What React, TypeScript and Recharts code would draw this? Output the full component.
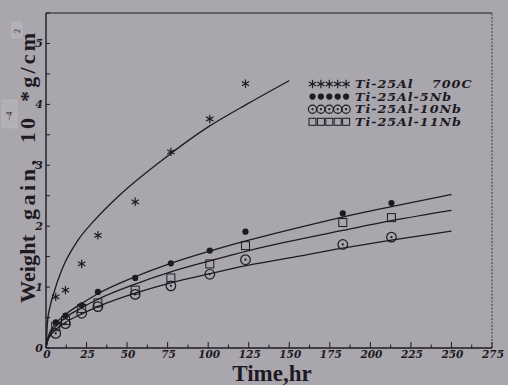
import React from 'react'
import {
  ComposedChart, Line, Scatter, XAxis, YAxis, ReferenceLine,
} from 'recharts'

// measured times (hr)
const sampleTimes = [6, 12, 22, 32, 55, 77, 101, 123, 183, 213]
// weight gain, 10^-4 g/cm^2
const ti25Al = [0.84, 0.95, 1.38, 1.85, 2.4, 3.22, 3.76, 4.34]
const ti25Al5Nb = [0.42, 0.53, 0.7, 0.92, 1.15, 1.39, 1.6, 1.91, 2.21, 2.38]
const ti25Al10Nb = [0.24, 0.4, 0.57, 0.68, 0.88, 1.02, 1.21, 1.45, 1.7, 1.82]
const ti25Al11Nb = [0.35, 0.45, 0.65, 0.74, 0.95, 1.15, 1.38, 1.68, 2.06, 2.14]

// fitted curves
const alFitTimes = [0, 1, 2.5, 5, 10, 20, 30, 45, 70, 100, 125, 150]
const alFit = [0, 0.45, 0.68, 0.92, 1.3, 1.78, 2.1, 2.5, 3.05, 3.63, 4.02, 4.39]
const nbFitTimes = [0, 1.5, 6, 12, 22, 32, 55, 77, 101, 125, 150, 183, 213, 250]
const nb5Fit = [0, 0.2, 0.4, 0.55, 0.73, 0.89, 1.17, 1.39, 1.59, 1.77, 1.94, 2.15, 2.32, 2.52]
const nb11Fit = [0, 0.17, 0.35, 0.5, 0.66, 0.8, 1.05, 1.25, 1.43, 1.6, 1.75, 1.93, 2.09, 2.26]
const nb10Fit = [0, 0.15, 0.3, 0.42, 0.56, 0.68, 0.9, 1.07, 1.22, 1.36, 1.48, 1.64, 1.77, 1.92]

const xMajor = [0, 25, 50, 75, 100, 125, 150, 175, 200, 225, 250, 275]
const yMajor = [0, 1, 2, 3, 4, 5]

const legendNames = ['Ti-25Al', 'Ti-25Al-5Nb', 'Ti-25Al-10Nb', 'Ti-25Al-11Nb']

const INK = '#1d1a22'
const BG = '#aaa6ae'
const TICK_FONT = '"DejaVu Serif", serif'

const pts = (ts: number[], vs: number[]) => vs.map((v, i) => ({ t: ts[i], v }))

const xTicks = xMajor.flatMap((t, i) => (i < xMajor.length - 1 ? [t, t + 12.5] : [t]))
const yTicks = yMajor.flatMap(v => [v, v + 0.5])

function Star({ cx, cy }: any) {
  const r = 4.2
  const a = r * 0.87, b = r * 0.5
  return (
    <g stroke={INK} strokeWidth={1.2}>
      <line x1={cx} y1={cy - r} x2={cx} y2={cy + r} />
      <line x1={cx - a} y1={cy - b} x2={cx + a} y2={cy + b} />
      <line x1={cx - a} y1={cy + b} x2={cx + a} y2={cy - b} />
    </g>
  )
}
function Dot({ cx, cy }: any) {
  return <circle cx={cx} cy={cy} r={3.1} fill={INK} />
}
function Ring({ cx, cy, r = 4.8 }: any) {
  return (
    <g>
      <circle cx={cx} cy={cy} r={r} fill="none" stroke={INK} strokeWidth={1.2} />
      <circle cx={cx} cy={cy} r={1.1} fill={INK} />
    </g>
  )
}
function Box({ cx, cy, s = 8 }: any) {
  return <rect x={cx - s / 2} y={cy - s / 2} width={s} height={s} fill="none" stroke={INK} strokeWidth={1} />
}

const markers = [Star, Dot, Ring, Box]

function XTick({ x, y, payload }: any) {
  const major = payload.value % 25 === 0
  return (
    <g>
      <line x1={x} x2={x} y1={y} y2={y - (major ? 6 : 3.5)} stroke={INK} strokeWidth={1} />
      {major && (
        <text x={x + 1} y={y + 10} textAnchor="middle" fill={INK} fontSize={10.5}
          fontFamily={TICK_FONT} fontStyle="italic" fontWeight="bold">{payload.value}</text>
      )}
    </g>
  )
}

function YTick({ x, y, payload }: any) {
  const major = Number.isInteger(payload.value)
  return (
    <g>
      <line x1={x} x2={x + 4} y1={y} y2={y} stroke={INK} strokeWidth={1} />
      {major && (
        <text x={x - 3} y={y + 4} textAnchor="end" fill={INK} fontSize={11}
          fontFamily={TICK_FONT} fontStyle="italic" fontWeight="bold">{payload.value}</text>
      )}
    </g>
  )
}

function Titles() {
  const serif = '"Liberation Serif", serif'
  return (
    <svg width={508} height={385} style={{ position: 'absolute', left: 0, top: 0, pointerEvents: 'none' }}>
      <g fill={INK} fontFamily={serif} fontWeight="bold" fontSize={22}>
        <text transform="translate(35,303) rotate(-90)" textLength={68} lengthAdjust="spacing">Weight</text>
        <text transform="translate(35,220) rotate(-90)" textLength={60} lengthAdjust="spacing">gain,</text>
        <text transform="translate(35,143) rotate(-90)" textLength={25} lengthAdjust="spacing">10</text>
        <text transform="translate(35,102) rotate(-90)" textLength={69} lengthAdjust="spacing">*g/cm</text>
      </g>
      <rect x={2} y={100} width={15} height={28} fill="#b3afb7" stroke="#bdb9c1" strokeWidth={0.6} />
      <text transform="translate(12,121) rotate(-90)" fill={INK} fontFamily={serif} fontSize={9}>−4</text>
      <rect x={12} y={22} width={10} height={16} fill="#b3afb7" stroke="#bdb9c1" strokeWidth={0.6} />
      <text transform="translate(20,33) rotate(-90)" fill={INK} fontFamily={serif} fontSize={8}>2</text>
      <text x={272} y={381} textAnchor="middle" fill={INK} fontFamily={serif} fontWeight="bold" fontSize={23}>Time,hr</text>
      <g fontFamily={TICK_FONT} fontStyle="italic" fontWeight="bold" fontSize={10.6} fill={INK}>
        {legendNames.map((name, i) => {
          const M = markers[i]
          const cy = 84 + i * 12.6
          return (
            <g key={name}>
              {[0, 1, 2, 3, 4].map(k => <M key={k} cx={312.5 + k * 8.4} cy={cy} r={4.1} s={7} />)}
              <text transform={`translate(355,${cy + 4}) scale(1.2,1)`} letterSpacing={0.8}>{name}</text>
            </g>
          )
        })}
        <text transform="translate(432,88) scale(1.2,1)" letterSpacing={0.8}>700C</text>
      </g>
    </svg>
  )
}

export default function App() {
  return (
    <div style={{ position: 'absolute', left: 0, top: 0, width: 508, height: 385, background: BG, overflow: 'hidden' }}>
      <ComposedChart width={508} height={385} margin={{ top: 13, right: 16, bottom: 0, left: 0 }}>
        <XAxis dataKey="t" type="number" domain={[0, 275]} ticks={xTicks} interval={0}
          tickSize={0} tickMargin={0} tick={<XTick />} height={37}
          axisLine={{ stroke: INK, strokeWidth: 1.4 }} allowDataOverflow />
        <YAxis type="number" domain={[0, 5.5]} ticks={yTicks} interval={0}
          tickSize={0} tickMargin={0} tick={<YTick />} width={46}
          axisLine={{ stroke: INK, strokeWidth: 1.4 }} allowDataOverflow />
        <ReferenceLine y={5.5} stroke={INK} strokeWidth={1} />
        <ReferenceLine x={275} stroke="#3a3640" strokeWidth={1} strokeDasharray="2 1.5" />
        <Line data={pts(alFitTimes, alFit)} dataKey="v" type="monotone" stroke={INK} strokeWidth={1.3} dot={false} isAnimationActive={false} />
        <Line data={pts(nbFitTimes, nb5Fit)} dataKey="v" type="monotone" stroke={INK} strokeWidth={1.3} dot={false} isAnimationActive={false} />
        <Line data={pts(nbFitTimes, nb11Fit)} dataKey="v" type="monotone" stroke={INK} strokeWidth={1.3} dot={false} isAnimationActive={false} />
        <Line data={pts(nbFitTimes, nb10Fit)} dataKey="v" type="monotone" stroke={INK} strokeWidth={1.3} dot={false} isAnimationActive={false} />
        <Scatter data={pts(sampleTimes, ti25Al)} dataKey="v" shape={<Star />} isAnimationActive={false} />
        <Scatter data={pts(sampleTimes, ti25Al5Nb)} dataKey="v" shape={<Dot />} isAnimationActive={false} />
        <Scatter data={pts(sampleTimes, ti25Al10Nb)} dataKey="v" shape={<Ring />} isAnimationActive={false} />
        <Scatter data={pts(sampleTimes, ti25Al11Nb)} dataKey="v" shape={<Box />} isAnimationActive={false} />
      </ComposedChart>
      <Titles />
    </div>
  )
}
